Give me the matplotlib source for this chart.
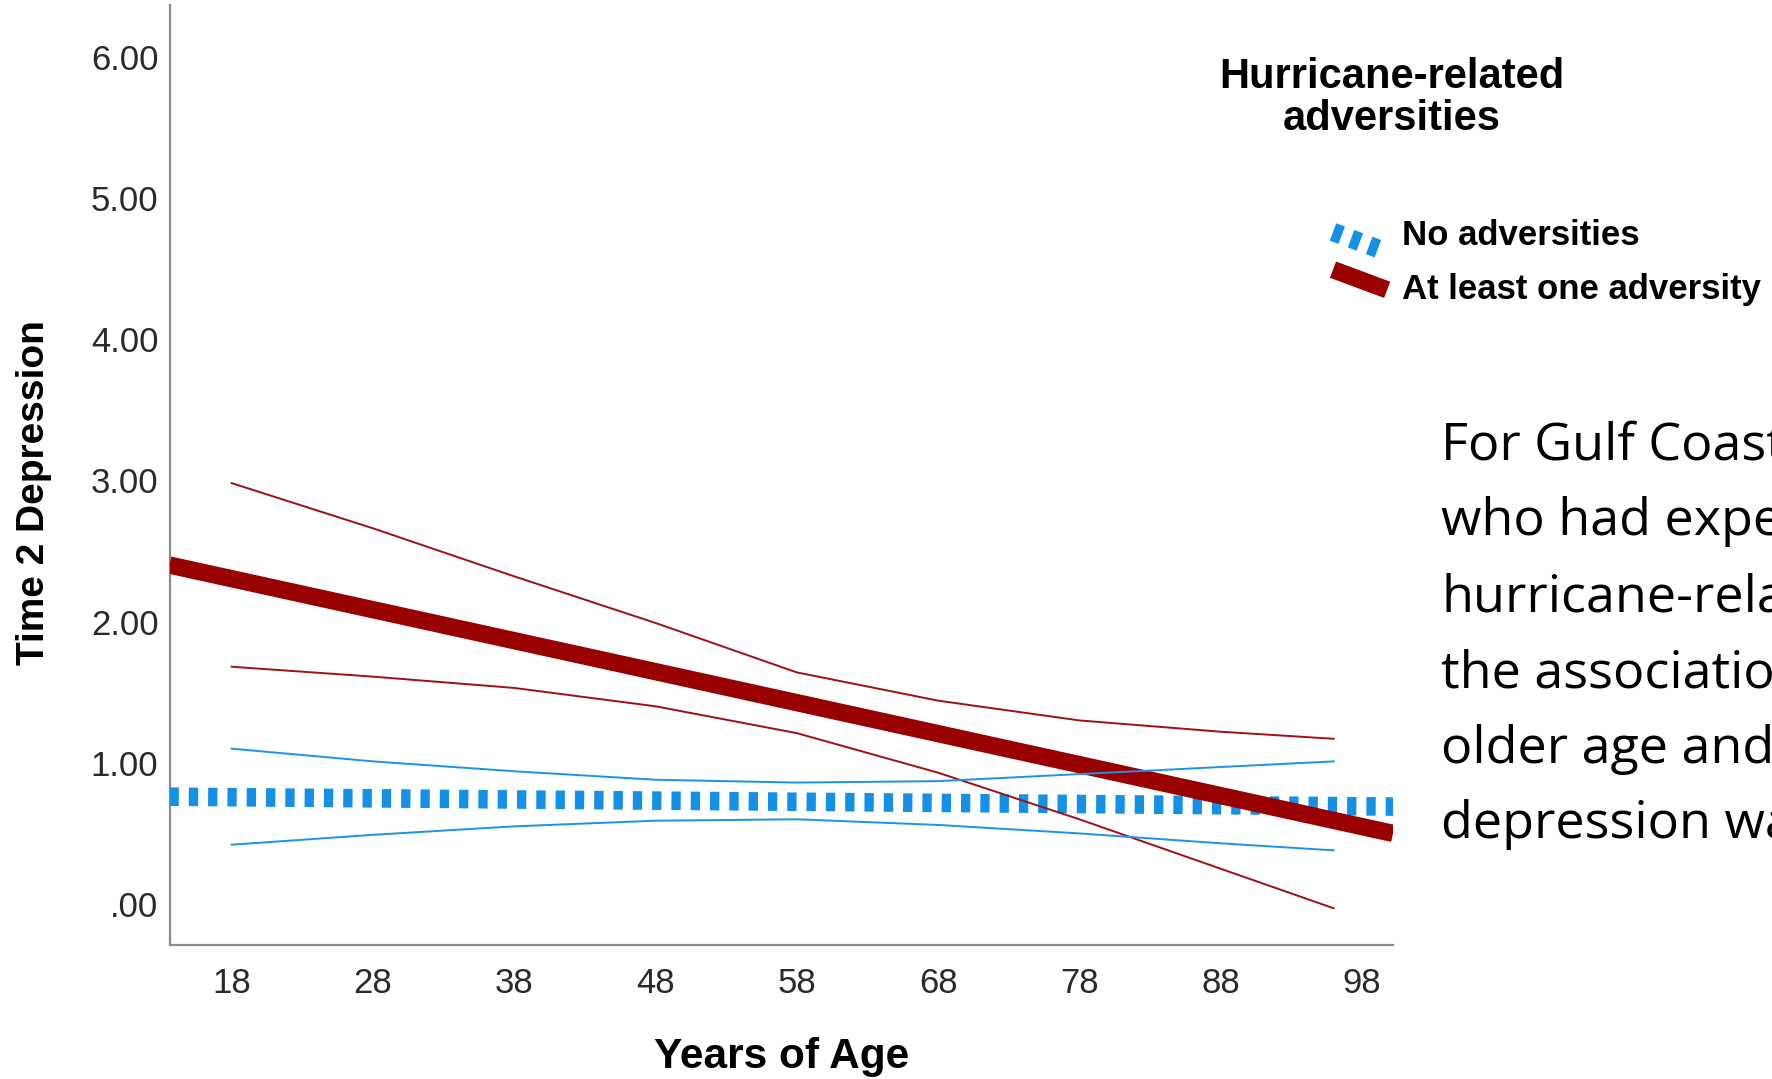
import matplotlib
matplotlib.use("Agg")
import matplotlib.pyplot as plt
from matplotlib.lines import Line2D
from matplotlib.legend_handler import HandlerLine2D

plt.rcParams["lines.scale_dashes"] = False

# ---------------- data ----------------
age_range = [13.6, 100.2]                    # fitted lines span the axis
fit_no_adv = [0.76, 0.69]                    # No adversities fit
fit_adv = [2.40, 0.50]                       # At least one adversity fit

ci_age = [18, 28, 38, 48, 58, 68, 78, 88, 96]
adv_upper = [2.98, 2.66, 2.32, 1.99, 1.64, 1.44, 1.30, 1.22, 1.17]
adv_lower = [1.68, 1.61, 1.53, 1.40, 1.21, 0.93, 0.60, 0.25, -0.03]
no_upper = [1.10, 1.01, 0.94, 0.88, 0.86, 0.87, 0.92, 0.97, 1.01]
no_lower = [0.42, 0.49, 0.55, 0.59, 0.60, 0.56, 0.50, 0.43, 0.38]

x_ticks = [18, 28, 38, 48, 58, 68, 78, 88, 98]
y_ticks = [0, 1, 2, 3, 4, 5, 6]
y_ticklabels = [".00", "1.00", "2.00", "3.00", "4.00", "5.00", "6.00"]

series_labels = ["No adversities", "At least one adversity"]
legend_title = "Hurricane-related\nadversities"
x_label = "Years of Age"
y_label = "Time 2 Depression"
side_text = ["For Gulf Coast", "who had experienced", "hurricane-related",
             "the association", "older age and", "depression was"]

BLUE = "#1490E6"
RED = "#990000"
FONT = ["Liberation Sans", "DejaVu Sans"]

# ---------------- figure ----------------
W, H = 1772, 1079
fig = plt.figure(figsize=(W / 100, H / 100), dpi=100)
fig.patch.set_facecolor("white")
ax = fig.add_axes([169.5 / W, 1 - 945 / H, (1393 - 169.5) / W, (945 - 5) / H])

ax.set_xlim(age_range[0], age_range[1])
ax.set_ylim(-0.29, 6.365)

l_no, = ax.plot(age_range, fit_no_adv, color=BLUE, lw=13.4,
                dashes=(6.7, 7.2), dash_capstyle="butt", zorder=3,
                label=series_labels[0])
l_adv, = ax.plot(age_range, fit_adv, color=RED, lw=12.5,
                 solid_capstyle="butt", zorder=4, label=series_labels[1])

ax.plot(ci_age, adv_upper, color="#A01010", lw=1.4, zorder=5)
ax.plot(ci_age, adv_lower, color="#A01010", lw=1.4, zorder=5)
ax.plot(ci_age, no_upper, color="#1E92E8", lw=1.4, zorder=5)
ax.plot(ci_age, no_lower, color="#1E92E8", lw=1.4, zorder=5)

for s in ["top", "right"]:
    ax.spines[s].set_visible(False)
for s in ["left", "bottom"]:
    ax.spines[s].set_color("#8c8c8c")
    ax.spines[s].set_linewidth(1.6)

ax.set_xticks(x_ticks)
ax.set_xticklabels([str(v) for v in x_ticks])
ax.set_yticks(y_ticks)
ax.set_yticklabels(y_ticklabels)
ax.tick_params(axis="both", length=0, labelsize=25, labelcolor="#2a2a2a")
ax.tick_params(axis="y", pad=8)
ax.tick_params(axis="x", pad=15.5)
for t in ax.get_xticklabels() + ax.get_yticklabels():
    t.set_family(FONT)

ax.set_xlabel(x_label, fontsize=30.5, fontweight="bold", family=FONT, labelpad=27)
fig.text(34 / W, 1 - 493 / H, y_label, rotation=90, ha="center", va="center",
         fontsize=28, fontweight="bold", family=FONT)


# ---------------- legend with slanted handles ----------------
class SlantHandler(HandlerLine2D):
    def create_artists(self, legend, orig_handle, xdescent, ydescent,
                       width, height, fontsize, trans):
        x0, y0 = -xdescent, -ydescent
        shift = getattr(orig_handle, "_slant_shift", 0.0) * height
        line = Line2D([x0, x0 + width],
                      [y0 + height * 0.85 + shift, y0 + height * 0.15 + shift])
        self.update_prop(line, orig_handle, legend)
        line.set_transform(trans)
        return [line]


l_no._slant_shift = -0.3
l_adv._slant_shift = 0.25

fig.text(1392 / W, 1 - 98 / H, legend_title, ha="center", va="center",
         fontsize=30, fontweight="bold", family=FONT, linespacing=1.07)

leg = fig.legend(handles=[l_no, l_adv], labels=series_labels,
                 loc="upper left", bbox_to_anchor=(1333 / W, 1 - 219 / H),
                 frameon=False, borderpad=0, borderaxespad=0,
                 handlelength=1.56, handleheight=0.9, handletextpad=0.42,
                 labelspacing=0.58,
                 prop={"family": FONT, "weight": "bold", "size": 25},
                 handler_map={Line2D: SlantHandler()})

# ---------------- side text (clipped by the figure edge) ----------------
baselines = [459, 535, 611, 687, 763, 838]
for line, b in zip(side_text, baselines):
    fig.text(1441 / W, 1 - b / H, line, ha="left", va="baseline",
             fontsize=37.5, family=["Open Sans", "DejaVu Sans"], color="black")

fig.savefig("out.png", dpi=100, facecolor="white")
